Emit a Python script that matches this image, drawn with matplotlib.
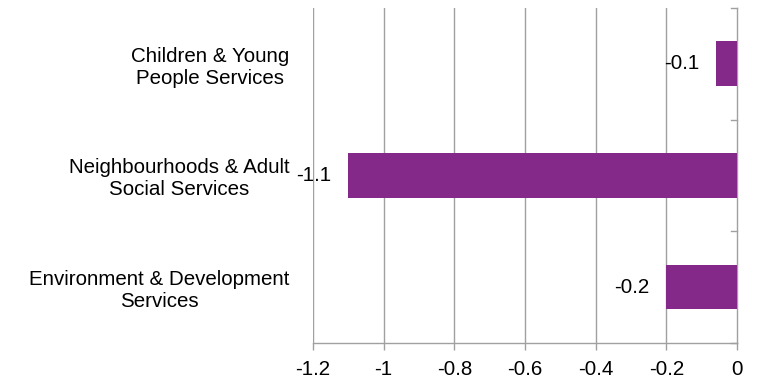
import matplotlib.pyplot as plt
import numpy as np

# data (top to bottom)
categories = ['Children & Young\nPeople Services',
              'Neighbourhoods & Adult\nSocial Services',
              'Environment & Development\nServices']
values = [-0.06, -1.1, -0.2]
x_ticks = [-1.2, -1.0, -0.8, -0.6, -0.4, -0.2, 0.0]
x_tick_labels = ['-1.2', '-1', '-0.8', '-0.6', '-0.4', '-0.2', '0']

plt.rcParams['font.family'] = ['Liberation Sans', 'DejaVu Sans']

bar_color = '#84288A'
grid_color = '#A0A0A0'
fs = 14.8

fig = plt.figure(figsize=(7.57, 3.80), dpi=100)
ax = fig.add_axes([0.4135, 0.0974, 0.5601, 0.8816])

n = len(categories)
ypos = np.arange(n)[::-1]  # first category on top
ax.barh(ypos, values, height=0.4, color=bar_color, zorder=3)

ax.set_xlim(-1.2, 0)
ax.set_ylim(-0.5, n - 0.5)

# vertical gridlines
for t in x_ticks[:-1]:
    ax.axvline(t, color=grid_color, lw=1, zorder=1)

# spines: only right (value axis at 0) and bottom
for s in ['top', 'left']:
    ax.spines[s].set_visible(False)
ax.spines['right'].set_color(grid_color)
ax.spines['bottom'].set_color(grid_color)
ax.spines['right'].set_linewidth(1)
ax.spines['bottom'].set_linewidth(1)

ax.set_xticks(x_ticks)
ax.set_xticklabels(x_tick_labels, fontsize=fs)
ax.tick_params(axis='x', direction='out', length=5, color=grid_color, width=1, pad=7)

# category labels on the left, no tick marks
ax.set_yticks(ypos)
ax.set_yticklabels(categories, fontsize=fs, ha='right', multialignment='center')
ax.tick_params(axis='y', length=0, pad=17)

# boundary tick marks on the right-hand axis
boundaries = np.arange(n + 1) - 0.5
for b in boundaries:
    ax.plot([1, 0.985], [b, b], transform=ax.get_yaxis_transform(),
            color=grid_color, lw=1, clip_on=False, zorder=4)

# data labels at the bar ends
for y, v in zip(ypos, values):
    ax.annotate(f'{v:.1f}', xy=(v, y), xytext=(-12, 0), textcoords='offset points',
                ha='right', va='center', fontsize=fs, zorder=5)

fig.savefig('out.png', dpi=100)
